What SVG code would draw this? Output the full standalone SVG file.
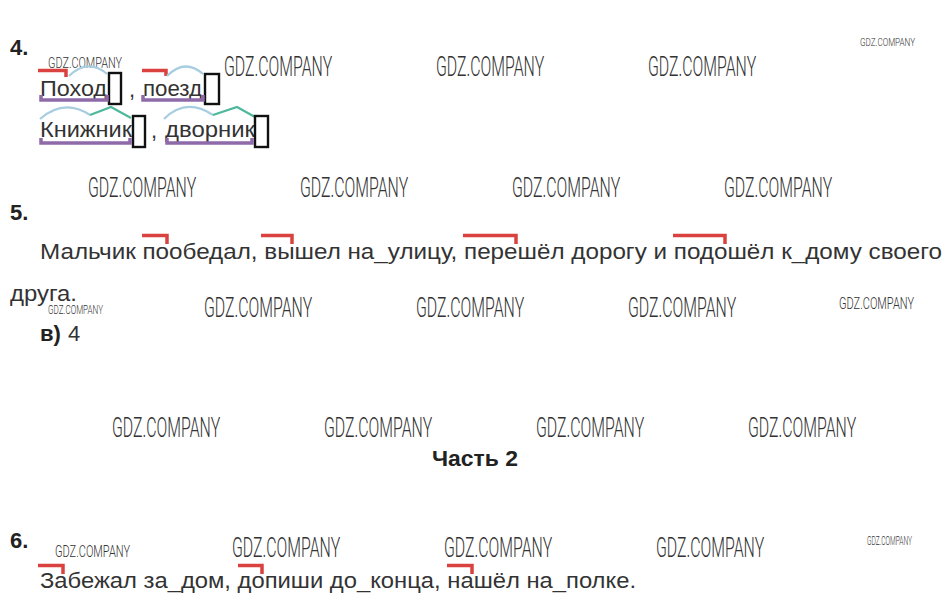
<svg xmlns="http://www.w3.org/2000/svg" width="948" height="605" viewBox="0 0 948 605">
<style>
.t{font-family:"Liberation Sans",Arial,sans-serif;font-size:22px;fill:#333}
.b{font-family:"Liberation Sans",Arial,sans-serif;font-size:22px;font-weight:bold;fill:#222}
.w{font-family:Roboto,"Liberation Sans",sans-serif;font-weight:300;font-size:28px;fill:#333}
.ws{font-family:Roboto,"Liberation Sans",sans-serif;font-weight:300;fill:#333}
.red{fill:none;stroke:#d9423f;stroke-width:3.5}
.blue{fill:none;stroke:#a6cde0;stroke-width:2.2}
.green{fill:none;stroke:#4db89b;stroke-width:2.2}
.base{fill:none;stroke:#8e6aa9;stroke-width:3.5}
.box{fill:none;stroke:#111;stroke-width:2.4}
</style>
<rect width="948" height="605" fill="#fff"/>

<g id="watermarks">
<text class="w" transform="translate(224,76) scale(0.52,1)" textLength="208" lengthAdjust="spacingAndGlyphs">GDZ.COMPANY</text>
<text class="w" transform="translate(436,76) scale(0.52,1)" textLength="208" lengthAdjust="spacingAndGlyphs">GDZ.COMPANY</text>
<text class="w" transform="translate(648,76) scale(0.52,1)" textLength="208" lengthAdjust="spacingAndGlyphs">GDZ.COMPANY</text>
<text class="w" transform="translate(88,197) scale(0.52,1)" textLength="208" lengthAdjust="spacingAndGlyphs">GDZ.COMPANY</text>
<text class="w" transform="translate(300,197) scale(0.52,1)" textLength="208" lengthAdjust="spacingAndGlyphs">GDZ.COMPANY</text>
<text class="w" transform="translate(512,197) scale(0.52,1)" textLength="208" lengthAdjust="spacingAndGlyphs">GDZ.COMPANY</text>
<text class="w" transform="translate(724,197) scale(0.52,1)" textLength="208" lengthAdjust="spacingAndGlyphs">GDZ.COMPANY</text>
<text class="w" transform="translate(204,317) scale(0.52,1)" textLength="208" lengthAdjust="spacingAndGlyphs">GDZ.COMPANY</text>
<text class="w" transform="translate(416,317) scale(0.52,1)" textLength="208" lengthAdjust="spacingAndGlyphs">GDZ.COMPANY</text>
<text class="w" transform="translate(628,317) scale(0.52,1)" textLength="208" lengthAdjust="spacingAndGlyphs">GDZ.COMPANY</text>
<text class="w" transform="translate(112,437) scale(0.52,1)" textLength="208" lengthAdjust="spacingAndGlyphs">GDZ.COMPANY</text>
<text class="w" transform="translate(324,437) scale(0.52,1)" textLength="208" lengthAdjust="spacingAndGlyphs">GDZ.COMPANY</text>
<text class="w" transform="translate(536,437) scale(0.52,1)" textLength="208" lengthAdjust="spacingAndGlyphs">GDZ.COMPANY</text>
<text class="w" transform="translate(748,437) scale(0.52,1)" textLength="208" lengthAdjust="spacingAndGlyphs">GDZ.COMPANY</text>
<text class="w" transform="translate(232,557) scale(0.52,1)" textLength="208" lengthAdjust="spacingAndGlyphs">GDZ.COMPANY</text>
<text class="w" transform="translate(444,557) scale(0.52,1)" textLength="208" lengthAdjust="spacingAndGlyphs">GDZ.COMPANY</text>
<text class="w" transform="translate(656,557) scale(0.52,1)" textLength="208" lengthAdjust="spacingAndGlyphs">GDZ.COMPANY</text>
<text class="ws" transform="translate(860,46) scale(0.5,1)" font-size="11" textLength="110" lengthAdjust="spacingAndGlyphs">GDZ.COMPANY</text>
<text class="ws" transform="translate(48,68) scale(0.5,1)" font-size="15" textLength="148" lengthAdjust="spacingAndGlyphs">GDZ.COMPANY</text>
<text class="ws" transform="translate(48,314) scale(0.5,1)" font-size="12.5" textLength="110" lengthAdjust="spacingAndGlyphs">GDZ.COMPANY</text>
<text class="ws" transform="translate(839,309) scale(0.5,1)" font-size="16" textLength="150" lengthAdjust="spacingAndGlyphs">GDZ.COMPANY</text>
<text class="ws" transform="translate(55,557) scale(0.5,1)" font-size="16" textLength="150" lengthAdjust="spacingAndGlyphs">GDZ.COMPANY</text>
<text class="ws" transform="translate(867,545) scale(0.5,1)" font-size="12" textLength="90" lengthAdjust="spacingAndGlyphs">GDZ.COMPANY</text>
</g>

<g id="task4">
<text class="b" x="10" y="55">4.</text>
<path class="red" d="M38,70.5 H66 V77"/>
<path class="blue" d="M69,76 Q88,58 107,74"/>
<text class="t" x="40" y="96" textLength="67" lengthAdjust="spacingAndGlyphs">Поход</text>
<rect class="box" x="109" y="73" width="12" height="31"/>
<path class="base" d="M41,95 V100 H107 V95"/>
<text class="t" x="129" y="97">,</text>
<path class="red" d="M142,70.5 H166 V76"/>
<path class="blue" d="M167,76 Q185,58 203,74"/>
<text class="t" x="143" y="96" textLength="59" lengthAdjust="spacingAndGlyphs">поезд</text>
<rect class="box" x="205" y="74" width="14" height="30"/>
<path class="base" d="M143,95 V100 H203 V95"/>

<path class="blue" d="M40,119 Q64,98 90,115"/>
<path class="green" d="M90,115 L111,107 L131,118"/>
<text class="t" x="40" y="137" textLength="92" lengthAdjust="spacingAndGlyphs">Книжник</text>
<rect class="box" x="133" y="116" width="12" height="31"/>
<path class="base" d="M41,138 V143 H130 V138"/>
<text class="t" x="151" y="138">,</text>
<path class="blue" d="M164,119 Q186,97 213,115"/>
<path class="green" d="M213,115 L237,107 L255,117"/>
<text class="t" x="165" y="137" textLength="90" lengthAdjust="spacingAndGlyphs">дворник</text>
<rect class="box" x="255" y="116" width="13" height="31"/>
<path class="base" d="M167,138 V143 H252 V138"/>
</g>

<g id="task5">
<text class="b" x="10" y="220">5.</text>
<path class="red" d="M142,235.5 H167 V244"/>
<path class="red" d="M261,235.5 H292 V244"/>
<path class="red" d="M463,235.5 H516 V244"/>
<path class="red" d="M673,235.5 H725 V244"/>
<text class="t" x="40" y="259" textLength="902" lengthAdjust="spacingAndGlyphs">Мальчик пообедал, вышел на_улицу, перешёл дорогу и подошёл к_дому своего</text>
<text class="t" x="10" y="301" textLength="67" lengthAdjust="spacingAndGlyphs">друга.</text>
<text class="b" x="40" y="341">в)</text>
<text class="t" x="68" y="341">4</text>
</g>

<g id="part2">
<text class="b" x="475" y="466" text-anchor="middle" textLength="86" lengthAdjust="spacingAndGlyphs">Часть 2</text>
</g>

<g id="task6">
<text class="b" x="10" y="548">6.</text>
<path class="red" d="M38,565.5 H63 V574"/>
<path class="red" d="M238,565.5 H262 V574"/>
<path class="red" d="M447,565.5 H472 V574"/>
<text class="t" x="40" y="588" textLength="596" lengthAdjust="spacingAndGlyphs">Забежал за_дом, допиши до_конца, нашёл на_полке.</text>
</g>
</svg>
